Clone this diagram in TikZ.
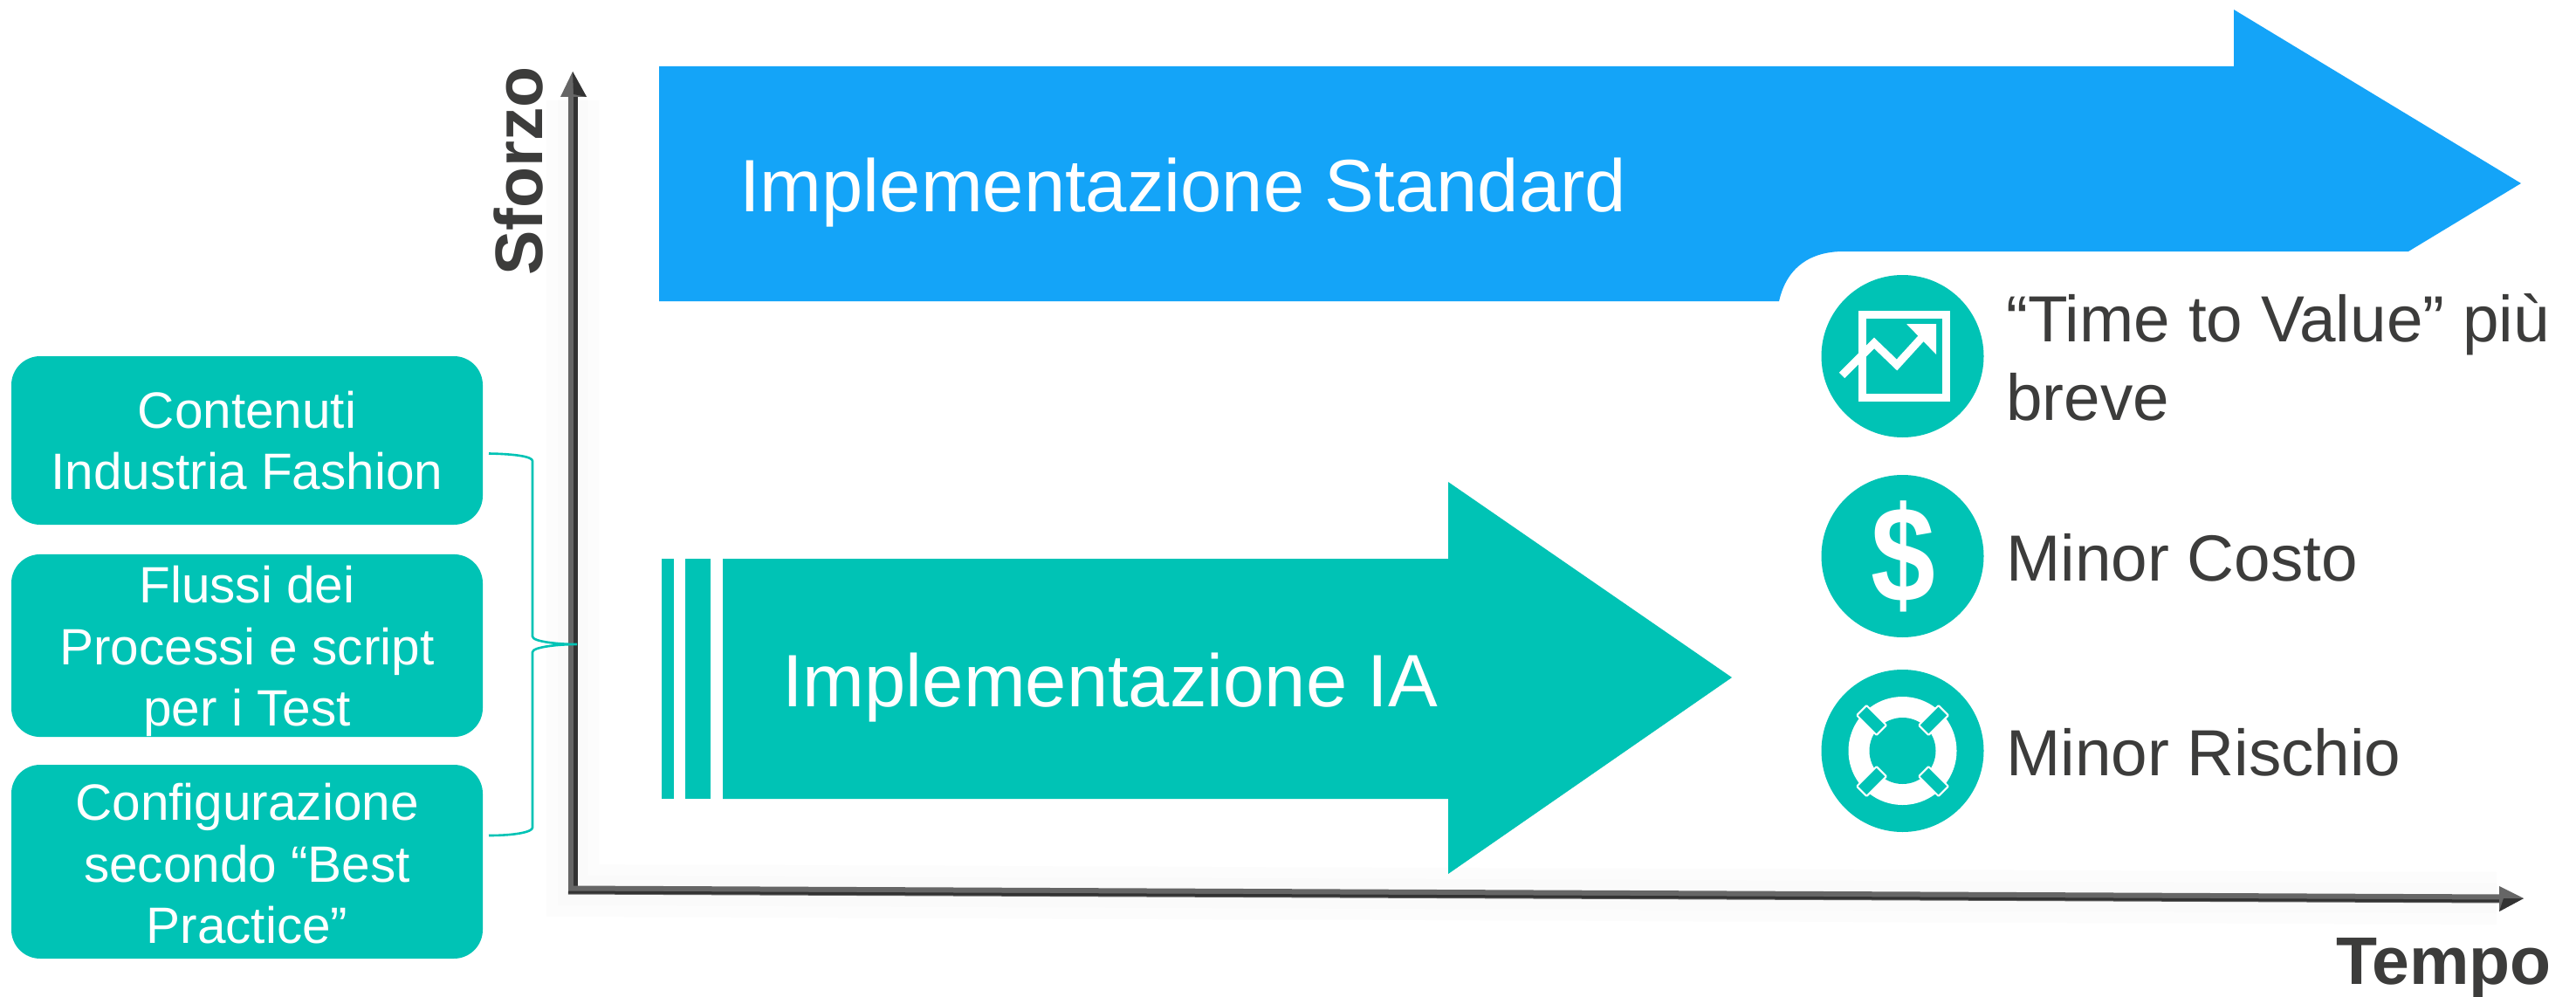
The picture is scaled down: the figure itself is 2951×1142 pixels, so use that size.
\documentclass[tikz,border=0pt]{standalone}
\usepackage{fontspec}
\setmainfont{Liberation Sans}
\definecolor{teal1}{HTML}{00C3B5}
\definecolor{blue1}{HTML}{14A4F8}
\definecolor{ink}{HTML}{3C3C3B}
\definecolor{axisgray}{HTML}{666666}
\definecolor{axisdark}{HTML}{333333}
\tikzset{
  sidebox/.style={fill=teal1,draw=none,rounded corners=33pt,minimum width=540pt,inner sep=0pt,
    text=white,align=center,font=\fontsize{58.5}{70.5}\selectfont},
  arrowtext/.style={text=white,anchor=base west,inner sep=0pt,font=\fontsize{85}{100}\selectfont},
  benefit/.style={text=ink,anchor=base west,inner sep=0pt,font=\fontsize{74.7}{89}\selectfont},
  axistext/.style={text=ink,inner sep=0pt,font=\bfseries\fontsize{77}{90}\selectfont},
  badge/.style={circle,fill=teal1,minimum size=186pt,inner sep=0pt},
  bracket/.style={draw=teal1,line width=2.6pt},
  band/.style={fill=teal1,draw=white,line width=2pt,rounded corners=1pt,rectangle,minimum width=32pt,minimum height=16pt,inner sep=0pt},
}
\begin{document}
\begin{tikzpicture}[x=1pt,y=-1pt]
\useasboundingbox (0,0) rectangle (2951,1142);
\fill[white] (0,0) rectangle (2951,1142);

% axis coordinates
\coordinate (origin) at (656,1020);
\coordinate (ytip) at (656,82);
\coordinate (xtip) at (2891,1029);

% soft axis shadow
\draw[line width=60pt,color=black!1] (656,115) -- (656,1020) -- (2860,1029);
\draw[line width=34pt,color=black!2] (656,115) -- (656,1020) -- (2860,1029);

% y axis
\draw[line width=11pt,color=axisgray] (656.5,108) -- (656.5,1024);
\draw[line width=5pt,color=axisdark] (659.5,108) -- (659.5,1024);
\fill[color=axisgray] (ytip) -- (672,111) -- (642,111) -- cycle;
\fill[color=axisdark] (ytip) -- (672,111) -- (657,108) -- cycle;

% x axis
\draw[line width=10pt,color=axisgray] (651,1019.5) -- (2866,1029.5);
\draw[line width=3pt,color=axisdark] (651,1022) -- (2866,1032);
\fill[color=axisgray] (xtip) -- (2863,1015) -- (2863,1044) -- cycle;
\fill[color=axisdark] (xtip) -- (2863,1044) -- (2868,1029) -- cycle;

\node[axistext,rotate=90,anchor=base west] (sforzo) at (621,316) {Sforzo};
\node[axistext,anchor=base west] (tempo) at (2676,1127) {Tempo};

% blue arrow
\fill[blue1] (755,76) -- (2559,76) -- (2559,11) -- (2888,210) -- (2759,288) -- (2112,288)
  .. controls (2075,288) and (2047,305) .. (2038,345) -- (755,345) -- cycle;
\node[arrowtext] (std) at (847,243) {Implementazione Standard};

% teal arrow
\fill[teal1] (758,640) rectangle (772,915);
\fill[teal1] (785,640) rectangle (814,915);
\fill[teal1] (828,640) -- (1659,640) -- (1659,552) -- (1984,776) -- (1659,1001) -- (1659,915) -- (828,915) -- cycle;
\node[arrowtext] (ia) at (896,809) {Implementazione IA};

% side boxes
\node[sidebox,minimum height=193pt] (box1) at (283,504.5) {Contenuti\\Industria Fashion};
\node[sidebox,minimum height=209pt] (box2) at (283,739.5) {\rule{0pt}{56pt}Flussi dei\\Processi e script\\per i Test};
\node[sidebox,minimum height=222pt] (box3) at (283,987) {\rule{0pt}{47pt}Configurazione\\secondo “Best\\Practice”};

% bracket
\coordinate (brA) at (560,519.5);
\coordinate (brB) at (560,957);
\coordinate (brTip) at (661,738);
\draw[bracket] (brA) .. controls (590,520) and (610,523) .. (610,528) -- (610,729)
  .. controls (610,735) and (640,738) .. (brTip)
  .. controls (640,738) and (610,741) .. (610,747) -- (610,948)
  .. controls (610,953) and (590,957) .. (brB);

% badges
\node[badge] (b1) at (2179.5,408) {};
\node[badge] (b2) at (2179.5,637) {};
\node[badge] (b3) at (2179.5,860) {};

% chart icon
\draw[white,line width=9pt] (2133.5,360.5) rectangle (2229,455.5);
\draw[white,line width=9pt] (2110,430) -- (2147,393) -- (2173,418) -- (2204,384);
\fill[white] (2184,371) -- (2218,371) -- (2218,406) -- cycle;

% dollar icon
\node[text=white,inner sep=0pt,xscale=.85,font=\bfseries\fontsize{156}{156}\selectfont] (dollar) at (2180,637) {\$};

% lifebuoy icon
\node[circle,fill=white,minimum size=124pt,inner sep=0pt] (ringout) at (b3) {};
\node[circle,fill=teal1,minimum size=76pt,inner sep=0pt] (ringin) at (b3) {};
\node[band,rotate=-45] (b3a) at (2144,825) {};
\node[band,rotate=45] (b3b) at (2215,825) {};
\node[band,rotate=45] (b3c) at (2144,895) {};
\node[band,rotate=-45] (b3d) at (2215,895) {};

% benefit texts
\node[benefit] (t1a) at (2298,391) {“Time to Value” più};
\node[benefit] (t1b) at (2298,481) {breve};
\node[benefit] (t2) at (2298,665) {Minor Costo};
\node[benefit] (t3) at (2298,888) {Minor Rischio};
\end{tikzpicture}
\end{document}
